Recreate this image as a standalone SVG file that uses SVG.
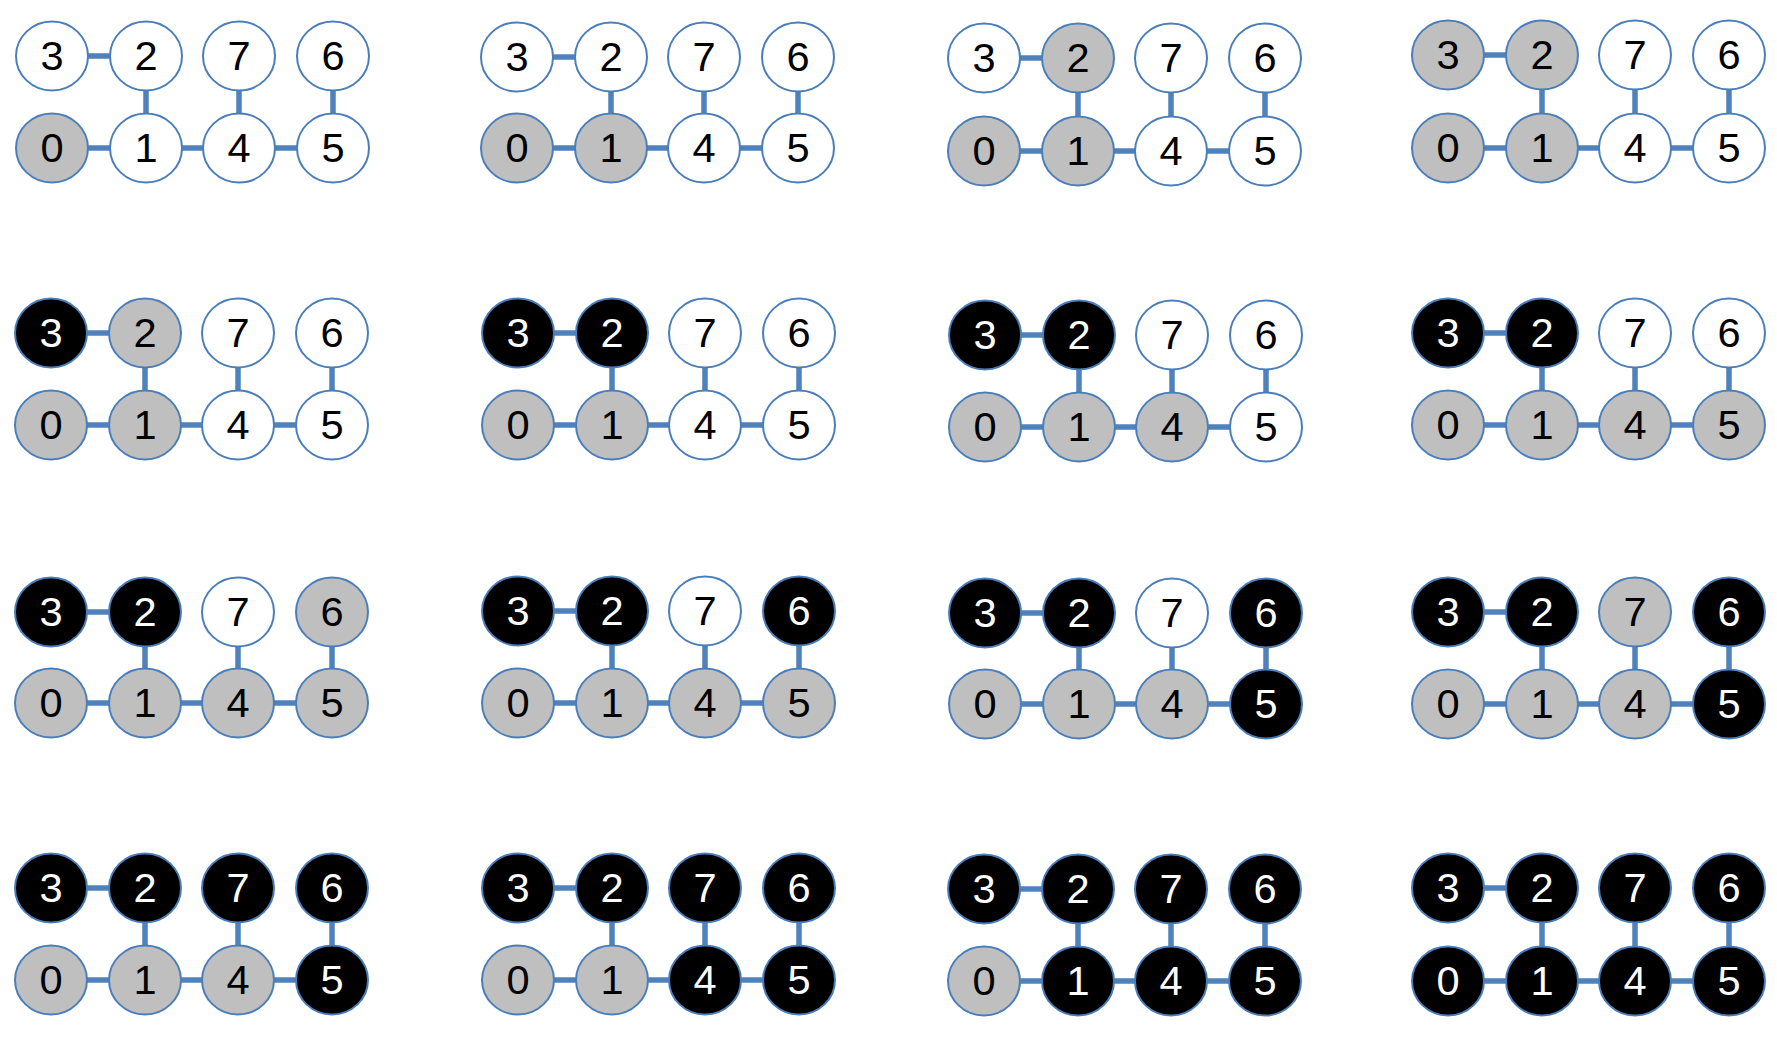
<svg xmlns="http://www.w3.org/2000/svg" width="1777" height="1048" viewBox="0 0 1777 1048">
<style>
.bg{fill:#fff}
.c path{fill:none;stroke:#4F81BD;stroke-width:5.5}
ellipse{stroke:#4A7EBB;stroke-width:2}
text{font-family:"Liberation Sans",Arial,sans-serif;font-size:40px;text-anchor:middle;transform-box:fill-box;transform-origin:center;transform:translate(0px,2.5px) scaleX(1.04)}
.w ellipse{fill:#fff}.w text{fill:#000}
.g ellipse{fill:#BFBFBF}.g text{fill:#000}
.b ellipse{fill:#000}.b text{fill:#fff}
</style>
<rect class="bg" width="1777" height="1048"/>
<g id="connectors" class="c">
<path d="M52 56H146M52 148H333M146 56V148M239 56V148M333 56V148"/>
<path d="M517 57H611M517 148H798M611 57V148M704 57V148M798 57V148"/>
<path d="M984 58H1078M984 151H1265M1078 58V151M1171 58V151M1265 58V151"/>
<path d="M1448 55H1542M1448 148H1729M1542 55V148M1635 55V148M1729 55V148"/>
<path d="M51 333H145M51 425H332M145 333V425M238 333V425M332 333V425"/>
<path d="M518 333H612M518 425H799M612 333V425M705 333V425M799 333V425"/>
<path d="M985 335H1079M985 427H1266M1079 335V427M1172 335V427M1266 335V427"/>
<path d="M1448 333H1542M1448 425H1729M1542 333V425M1635 333V425M1729 333V425"/>
<path d="M51 612H145M51 703H332M145 612V703M238 612V703M332 612V703"/>
<path d="M518 611H612M518 703H799M612 611V703M705 611V703M799 611V703"/>
<path d="M985 613H1079M985 704H1266M1079 613V704M1172 613V704M1266 613V704"/>
<path d="M1448 612H1542M1448 704H1729M1542 612V704M1635 612V704M1729 612V704"/>
<path d="M51 888H145M51 980H332M145 888V980M238 888V980M332 888V980"/>
<path d="M518 888H612M518 980H799M612 888V980M705 888V980M799 888V980"/>
<path d="M984 889H1078M984 981H1265M1078 889V981M1171 889V981M1265 889V981"/>
<path d="M1448 888H1542M1448 981H1729M1542 888V981M1635 888V981M1729 888V981"/>
</g>

<g id="p11">
<g id="p11-n3" class="w"><ellipse cx="52" cy="56" rx="36" ry="34.5"/><text x="52" y="67.5">3</text></g>
<g id="p11-n2" class="w"><ellipse cx="146" cy="56" rx="36" ry="34.5"/><text x="146" y="67.5">2</text></g>
<g id="p11-n7" class="w"><ellipse cx="239" cy="56" rx="36" ry="34.5"/><text x="239" y="67.5">7</text></g>
<g id="p11-n6" class="w"><ellipse cx="333" cy="56" rx="36" ry="34.5"/><text x="333" y="67.5">6</text></g>
<g id="p11-n0" class="g"><ellipse cx="52" cy="148" rx="36" ry="34.5"/><text x="52" y="159.5">0</text></g>
<g id="p11-n1" class="w"><ellipse cx="146" cy="148" rx="36" ry="34.5"/><text x="146" y="159.5">1</text></g>
<g id="p11-n4" class="w"><ellipse cx="239" cy="148" rx="36" ry="34.5"/><text x="239" y="159.5">4</text></g>
<g id="p11-n5" class="w"><ellipse cx="333" cy="148" rx="36" ry="34.5"/><text x="333" y="159.5">5</text></g>
</g>

<g id="p12">
<g id="p12-n3" class="w"><ellipse cx="517" cy="57" rx="36" ry="34.5"/><text x="517" y="68.5">3</text></g>
<g id="p12-n2" class="w"><ellipse cx="611" cy="57" rx="36" ry="34.5"/><text x="611" y="68.5">2</text></g>
<g id="p12-n7" class="w"><ellipse cx="704" cy="57" rx="36" ry="34.5"/><text x="704" y="68.5">7</text></g>
<g id="p12-n6" class="w"><ellipse cx="798" cy="57" rx="36" ry="34.5"/><text x="798" y="68.5">6</text></g>
<g id="p12-n0" class="g"><ellipse cx="517" cy="148" rx="36" ry="34.5"/><text x="517" y="159.5">0</text></g>
<g id="p12-n1" class="g"><ellipse cx="611" cy="148" rx="36" ry="34.5"/><text x="611" y="159.5">1</text></g>
<g id="p12-n4" class="w"><ellipse cx="704" cy="148" rx="36" ry="34.5"/><text x="704" y="159.5">4</text></g>
<g id="p12-n5" class="w"><ellipse cx="798" cy="148" rx="36" ry="34.5"/><text x="798" y="159.5">5</text></g>
</g>

<g id="p13">
<g id="p13-n3" class="w"><ellipse cx="984" cy="58" rx="36" ry="34.5"/><text x="984" y="69.5">3</text></g>
<g id="p13-n2" class="g"><ellipse cx="1078" cy="58" rx="36" ry="34.5"/><text x="1078" y="69.5">2</text></g>
<g id="p13-n7" class="w"><ellipse cx="1171" cy="58" rx="36" ry="34.5"/><text x="1171" y="69.5">7</text></g>
<g id="p13-n6" class="w"><ellipse cx="1265" cy="58" rx="36" ry="34.5"/><text x="1265" y="69.5">6</text></g>
<g id="p13-n0" class="g"><ellipse cx="984" cy="151" rx="36" ry="34.5"/><text x="984" y="162.5">0</text></g>
<g id="p13-n1" class="g"><ellipse cx="1078" cy="151" rx="36" ry="34.5"/><text x="1078" y="162.5">1</text></g>
<g id="p13-n4" class="w"><ellipse cx="1171" cy="151" rx="36" ry="34.5"/><text x="1171" y="162.5">4</text></g>
<g id="p13-n5" class="w"><ellipse cx="1265" cy="151" rx="36" ry="34.5"/><text x="1265" y="162.5">5</text></g>
</g>

<g id="p14">
<g id="p14-n3" class="g"><ellipse cx="1448" cy="55" rx="36" ry="34.5"/><text x="1448" y="66.5">3</text></g>
<g id="p14-n2" class="g"><ellipse cx="1542" cy="55" rx="36" ry="34.5"/><text x="1542" y="66.5">2</text></g>
<g id="p14-n7" class="w"><ellipse cx="1635" cy="55" rx="36" ry="34.5"/><text x="1635" y="66.5">7</text></g>
<g id="p14-n6" class="w"><ellipse cx="1729" cy="55" rx="36" ry="34.5"/><text x="1729" y="66.5">6</text></g>
<g id="p14-n0" class="g"><ellipse cx="1448" cy="148" rx="36" ry="34.5"/><text x="1448" y="159.5">0</text></g>
<g id="p14-n1" class="g"><ellipse cx="1542" cy="148" rx="36" ry="34.5"/><text x="1542" y="159.5">1</text></g>
<g id="p14-n4" class="w"><ellipse cx="1635" cy="148" rx="36" ry="34.5"/><text x="1635" y="159.5">4</text></g>
<g id="p14-n5" class="w"><ellipse cx="1729" cy="148" rx="36" ry="34.5"/><text x="1729" y="159.5">5</text></g>
</g>

<g id="p21">
<g id="p21-n3" class="b"><ellipse cx="51" cy="333" rx="36" ry="34.5"/><text x="51" y="344.5">3</text></g>
<g id="p21-n2" class="g"><ellipse cx="145" cy="333" rx="36" ry="34.5"/><text x="145" y="344.5">2</text></g>
<g id="p21-n7" class="w"><ellipse cx="238" cy="333" rx="36" ry="34.5"/><text x="238" y="344.5">7</text></g>
<g id="p21-n6" class="w"><ellipse cx="332" cy="333" rx="36" ry="34.5"/><text x="332" y="344.5">6</text></g>
<g id="p21-n0" class="g"><ellipse cx="51" cy="425" rx="36" ry="34.5"/><text x="51" y="436.5">0</text></g>
<g id="p21-n1" class="g"><ellipse cx="145" cy="425" rx="36" ry="34.5"/><text x="145" y="436.5">1</text></g>
<g id="p21-n4" class="w"><ellipse cx="238" cy="425" rx="36" ry="34.5"/><text x="238" y="436.5">4</text></g>
<g id="p21-n5" class="w"><ellipse cx="332" cy="425" rx="36" ry="34.5"/><text x="332" y="436.5">5</text></g>
</g>

<g id="p22">
<g id="p22-n3" class="b"><ellipse cx="518" cy="333" rx="36" ry="34.5"/><text x="518" y="344.5">3</text></g>
<g id="p22-n2" class="b"><ellipse cx="612" cy="333" rx="36" ry="34.5"/><text x="612" y="344.5">2</text></g>
<g id="p22-n7" class="w"><ellipse cx="705" cy="333" rx="36" ry="34.5"/><text x="705" y="344.5">7</text></g>
<g id="p22-n6" class="w"><ellipse cx="799" cy="333" rx="36" ry="34.5"/><text x="799" y="344.5">6</text></g>
<g id="p22-n0" class="g"><ellipse cx="518" cy="425" rx="36" ry="34.5"/><text x="518" y="436.5">0</text></g>
<g id="p22-n1" class="g"><ellipse cx="612" cy="425" rx="36" ry="34.5"/><text x="612" y="436.5">1</text></g>
<g id="p22-n4" class="w"><ellipse cx="705" cy="425" rx="36" ry="34.5"/><text x="705" y="436.5">4</text></g>
<g id="p22-n5" class="w"><ellipse cx="799" cy="425" rx="36" ry="34.5"/><text x="799" y="436.5">5</text></g>
</g>

<g id="p23">
<g id="p23-n3" class="b"><ellipse cx="985" cy="335" rx="36" ry="34.5"/><text x="985" y="346.5">3</text></g>
<g id="p23-n2" class="b"><ellipse cx="1079" cy="335" rx="36" ry="34.5"/><text x="1079" y="346.5">2</text></g>
<g id="p23-n7" class="w"><ellipse cx="1172" cy="335" rx="36" ry="34.5"/><text x="1172" y="346.5">7</text></g>
<g id="p23-n6" class="w"><ellipse cx="1266" cy="335" rx="36" ry="34.5"/><text x="1266" y="346.5">6</text></g>
<g id="p23-n0" class="g"><ellipse cx="985" cy="427" rx="36" ry="34.5"/><text x="985" y="438.5">0</text></g>
<g id="p23-n1" class="g"><ellipse cx="1079" cy="427" rx="36" ry="34.5"/><text x="1079" y="438.5">1</text></g>
<g id="p23-n4" class="g"><ellipse cx="1172" cy="427" rx="36" ry="34.5"/><text x="1172" y="438.5">4</text></g>
<g id="p23-n5" class="w"><ellipse cx="1266" cy="427" rx="36" ry="34.5"/><text x="1266" y="438.5">5</text></g>
</g>

<g id="p24">
<g id="p24-n3" class="b"><ellipse cx="1448" cy="333" rx="36" ry="34.5"/><text x="1448" y="344.5">3</text></g>
<g id="p24-n2" class="b"><ellipse cx="1542" cy="333" rx="36" ry="34.5"/><text x="1542" y="344.5">2</text></g>
<g id="p24-n7" class="w"><ellipse cx="1635" cy="333" rx="36" ry="34.5"/><text x="1635" y="344.5">7</text></g>
<g id="p24-n6" class="w"><ellipse cx="1729" cy="333" rx="36" ry="34.5"/><text x="1729" y="344.5">6</text></g>
<g id="p24-n0" class="g"><ellipse cx="1448" cy="425" rx="36" ry="34.5"/><text x="1448" y="436.5">0</text></g>
<g id="p24-n1" class="g"><ellipse cx="1542" cy="425" rx="36" ry="34.5"/><text x="1542" y="436.5">1</text></g>
<g id="p24-n4" class="g"><ellipse cx="1635" cy="425" rx="36" ry="34.5"/><text x="1635" y="436.5">4</text></g>
<g id="p24-n5" class="g"><ellipse cx="1729" cy="425" rx="36" ry="34.5"/><text x="1729" y="436.5">5</text></g>
</g>

<g id="p31">
<g id="p31-n3" class="b"><ellipse cx="51" cy="612" rx="36" ry="34.5"/><text x="51" y="623.5">3</text></g>
<g id="p31-n2" class="b"><ellipse cx="145" cy="612" rx="36" ry="34.5"/><text x="145" y="623.5">2</text></g>
<g id="p31-n7" class="w"><ellipse cx="238" cy="612" rx="36" ry="34.5"/><text x="238" y="623.5">7</text></g>
<g id="p31-n6" class="g"><ellipse cx="332" cy="612" rx="36" ry="34.5"/><text x="332" y="623.5">6</text></g>
<g id="p31-n0" class="g"><ellipse cx="51" cy="703" rx="36" ry="34.5"/><text x="51" y="714.5">0</text></g>
<g id="p31-n1" class="g"><ellipse cx="145" cy="703" rx="36" ry="34.5"/><text x="145" y="714.5">1</text></g>
<g id="p31-n4" class="g"><ellipse cx="238" cy="703" rx="36" ry="34.5"/><text x="238" y="714.5">4</text></g>
<g id="p31-n5" class="g"><ellipse cx="332" cy="703" rx="36" ry="34.5"/><text x="332" y="714.5">5</text></g>
</g>

<g id="p32">
<g id="p32-n3" class="b"><ellipse cx="518" cy="611" rx="36" ry="34.5"/><text x="518" y="622.5">3</text></g>
<g id="p32-n2" class="b"><ellipse cx="612" cy="611" rx="36" ry="34.5"/><text x="612" y="622.5">2</text></g>
<g id="p32-n7" class="w"><ellipse cx="705" cy="611" rx="36" ry="34.5"/><text x="705" y="622.5">7</text></g>
<g id="p32-n6" class="b"><ellipse cx="799" cy="611" rx="36" ry="34.5"/><text x="799" y="622.5">6</text></g>
<g id="p32-n0" class="g"><ellipse cx="518" cy="703" rx="36" ry="34.5"/><text x="518" y="714.5">0</text></g>
<g id="p32-n1" class="g"><ellipse cx="612" cy="703" rx="36" ry="34.5"/><text x="612" y="714.5">1</text></g>
<g id="p32-n4" class="g"><ellipse cx="705" cy="703" rx="36" ry="34.5"/><text x="705" y="714.5">4</text></g>
<g id="p32-n5" class="g"><ellipse cx="799" cy="703" rx="36" ry="34.5"/><text x="799" y="714.5">5</text></g>
</g>

<g id="p33">
<g id="p33-n3" class="b"><ellipse cx="985" cy="613" rx="36" ry="34.5"/><text x="985" y="624.5">3</text></g>
<g id="p33-n2" class="b"><ellipse cx="1079" cy="613" rx="36" ry="34.5"/><text x="1079" y="624.5">2</text></g>
<g id="p33-n7" class="w"><ellipse cx="1172" cy="613" rx="36" ry="34.5"/><text x="1172" y="624.5">7</text></g>
<g id="p33-n6" class="b"><ellipse cx="1266" cy="613" rx="36" ry="34.5"/><text x="1266" y="624.5">6</text></g>
<g id="p33-n0" class="g"><ellipse cx="985" cy="704" rx="36" ry="34.5"/><text x="985" y="715.5">0</text></g>
<g id="p33-n1" class="g"><ellipse cx="1079" cy="704" rx="36" ry="34.5"/><text x="1079" y="715.5">1</text></g>
<g id="p33-n4" class="g"><ellipse cx="1172" cy="704" rx="36" ry="34.5"/><text x="1172" y="715.5">4</text></g>
<g id="p33-n5" class="b"><ellipse cx="1266" cy="704" rx="36" ry="34.5"/><text x="1266" y="715.5">5</text></g>
</g>

<g id="p34">
<g id="p34-n3" class="b"><ellipse cx="1448" cy="612" rx="36" ry="34.5"/><text x="1448" y="623.5">3</text></g>
<g id="p34-n2" class="b"><ellipse cx="1542" cy="612" rx="36" ry="34.5"/><text x="1542" y="623.5">2</text></g>
<g id="p34-n7" class="g"><ellipse cx="1635" cy="612" rx="36" ry="34.5"/><text x="1635" y="623.5">7</text></g>
<g id="p34-n6" class="b"><ellipse cx="1729" cy="612" rx="36" ry="34.5"/><text x="1729" y="623.5">6</text></g>
<g id="p34-n0" class="g"><ellipse cx="1448" cy="704" rx="36" ry="34.5"/><text x="1448" y="715.5">0</text></g>
<g id="p34-n1" class="g"><ellipse cx="1542" cy="704" rx="36" ry="34.5"/><text x="1542" y="715.5">1</text></g>
<g id="p34-n4" class="g"><ellipse cx="1635" cy="704" rx="36" ry="34.5"/><text x="1635" y="715.5">4</text></g>
<g id="p34-n5" class="b"><ellipse cx="1729" cy="704" rx="36" ry="34.5"/><text x="1729" y="715.5">5</text></g>
</g>

<g id="p41">
<g id="p41-n3" class="b"><ellipse cx="51" cy="888" rx="36" ry="34.5"/><text x="51" y="899.5">3</text></g>
<g id="p41-n2" class="b"><ellipse cx="145" cy="888" rx="36" ry="34.5"/><text x="145" y="899.5">2</text></g>
<g id="p41-n7" class="b"><ellipse cx="238" cy="888" rx="36" ry="34.5"/><text x="238" y="899.5">7</text></g>
<g id="p41-n6" class="b"><ellipse cx="332" cy="888" rx="36" ry="34.5"/><text x="332" y="899.5">6</text></g>
<g id="p41-n0" class="g"><ellipse cx="51" cy="980" rx="36" ry="34.5"/><text x="51" y="991.5">0</text></g>
<g id="p41-n1" class="g"><ellipse cx="145" cy="980" rx="36" ry="34.5"/><text x="145" y="991.5">1</text></g>
<g id="p41-n4" class="g"><ellipse cx="238" cy="980" rx="36" ry="34.5"/><text x="238" y="991.5">4</text></g>
<g id="p41-n5" class="b"><ellipse cx="332" cy="980" rx="36" ry="34.5"/><text x="332" y="991.5">5</text></g>
</g>

<g id="p42">
<g id="p42-n3" class="b"><ellipse cx="518" cy="888" rx="36" ry="34.5"/><text x="518" y="899.5">3</text></g>
<g id="p42-n2" class="b"><ellipse cx="612" cy="888" rx="36" ry="34.5"/><text x="612" y="899.5">2</text></g>
<g id="p42-n7" class="b"><ellipse cx="705" cy="888" rx="36" ry="34.5"/><text x="705" y="899.5">7</text></g>
<g id="p42-n6" class="b"><ellipse cx="799" cy="888" rx="36" ry="34.5"/><text x="799" y="899.5">6</text></g>
<g id="p42-n0" class="g"><ellipse cx="518" cy="980" rx="36" ry="34.5"/><text x="518" y="991.5">0</text></g>
<g id="p42-n1" class="g"><ellipse cx="612" cy="980" rx="36" ry="34.5"/><text x="612" y="991.5">1</text></g>
<g id="p42-n4" class="b"><ellipse cx="705" cy="980" rx="36" ry="34.5"/><text x="705" y="991.5">4</text></g>
<g id="p42-n5" class="b"><ellipse cx="799" cy="980" rx="36" ry="34.5"/><text x="799" y="991.5">5</text></g>
</g>

<g id="p43">
<g id="p43-n3" class="b"><ellipse cx="984" cy="889" rx="36" ry="34.5"/><text x="984" y="900.5">3</text></g>
<g id="p43-n2" class="b"><ellipse cx="1078" cy="889" rx="36" ry="34.5"/><text x="1078" y="900.5">2</text></g>
<g id="p43-n7" class="b"><ellipse cx="1171" cy="889" rx="36" ry="34.5"/><text x="1171" y="900.5">7</text></g>
<g id="p43-n6" class="b"><ellipse cx="1265" cy="889" rx="36" ry="34.5"/><text x="1265" y="900.5">6</text></g>
<g id="p43-n0" class="g"><ellipse cx="984" cy="981" rx="36" ry="34.5"/><text x="984" y="992.5">0</text></g>
<g id="p43-n1" class="b"><ellipse cx="1078" cy="981" rx="36" ry="34.5"/><text x="1078" y="992.5">1</text></g>
<g id="p43-n4" class="b"><ellipse cx="1171" cy="981" rx="36" ry="34.5"/><text x="1171" y="992.5">4</text></g>
<g id="p43-n5" class="b"><ellipse cx="1265" cy="981" rx="36" ry="34.5"/><text x="1265" y="992.5">5</text></g>
</g>

<g id="p44">
<g id="p44-n3" class="b"><ellipse cx="1448" cy="888" rx="36" ry="34.5"/><text x="1448" y="899.5">3</text></g>
<g id="p44-n2" class="b"><ellipse cx="1542" cy="888" rx="36" ry="34.5"/><text x="1542" y="899.5">2</text></g>
<g id="p44-n7" class="b"><ellipse cx="1635" cy="888" rx="36" ry="34.5"/><text x="1635" y="899.5">7</text></g>
<g id="p44-n6" class="b"><ellipse cx="1729" cy="888" rx="36" ry="34.5"/><text x="1729" y="899.5">6</text></g>
<g id="p44-n0" class="b"><ellipse cx="1448" cy="981" rx="36" ry="34.5"/><text x="1448" y="992.5">0</text></g>
<g id="p44-n1" class="b"><ellipse cx="1542" cy="981" rx="36" ry="34.5"/><text x="1542" y="992.5">1</text></g>
<g id="p44-n4" class="b"><ellipse cx="1635" cy="981" rx="36" ry="34.5"/><text x="1635" y="992.5">4</text></g>
<g id="p44-n5" class="b"><ellipse cx="1729" cy="981" rx="36" ry="34.5"/><text x="1729" y="992.5">5</text></g>
</g>
</svg>
